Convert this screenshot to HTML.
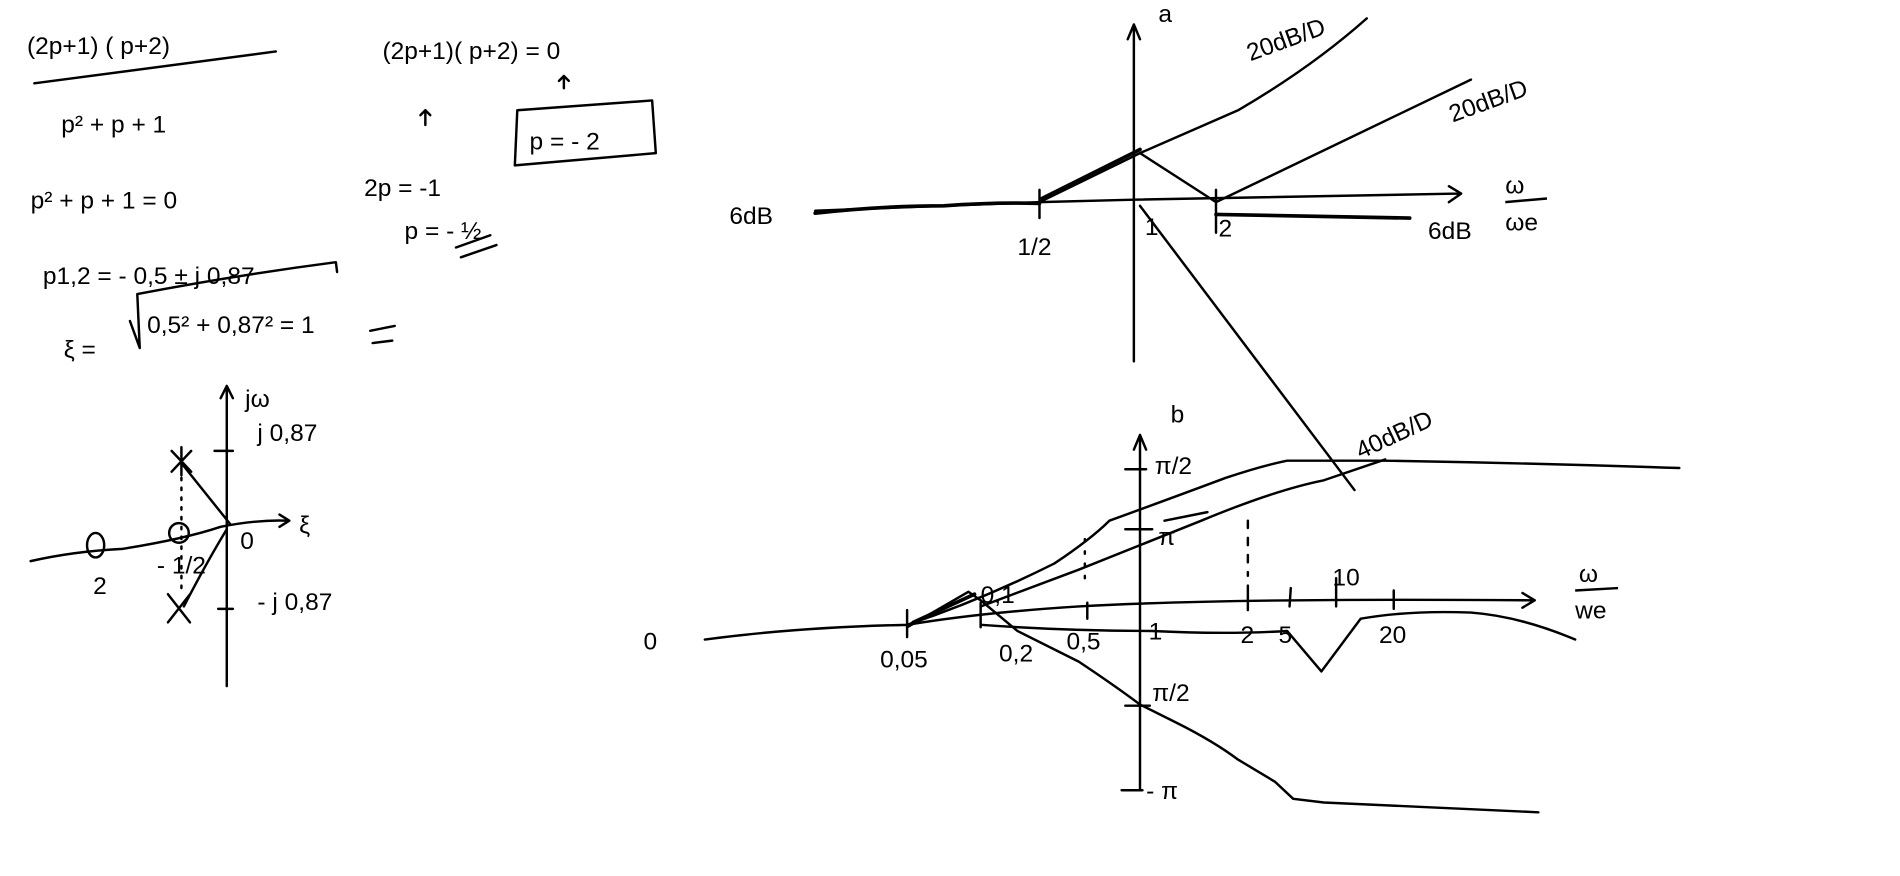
<!DOCTYPE html>
<html><head><meta charset="utf-8"><style>
html,body{margin:0;padding:0;background:#fff;width:1900px;height:876px;overflow:hidden}
svg{display:block}
text{font-family:"Liberation Sans",sans-serif;fill:#000;font-size:20px}
</style></head><body>
<svg width="1900" height="876" viewBox="0 0 1550 715" preserveAspectRatio="none">
<g fill="none" stroke="#000" stroke-width="2" stroke-linecap="round" stroke-linejoin="round">
<path d="M28 68 L225 42"/>
<path d="M422 90 L532 82 L535 125 L420 135 Z"/>
<path d="M460 72 L460 62 M456 66 L460 62 L464 66"/>
<path d="M347 102 L347 90 M343 94 L347 90 L351 94"/>
<path d="M372 202 L400 192 M376 210 L405 200"/>
<path d="M302 270 L322 266 M304 280 L320 278"/>
<!-- sqrt -->
<path d="M106 262 L114 284 L112 240 Q190 225 274 214 L275 222"/>
<!-- pole zero plot -->
<path d="M185 560 L185 315 M180 325 L185 315 L190 325"/>
<path d="M25 458 Q60 450 100 448 Q150 440 180 430 Q210 424 235 425 M228 420 L236 425 L228 430"/>
<ellipse cx="78" cy="445" rx="7" ry="10"/>
<ellipse cx="146" cy="435" rx="8" ry="8"/>
<path d="M140 368 L156 385 M156 368 L140 385 M148 365 L148 388"/>
<path d="M137 485 L155 508 M155 485 L137 508"/>
<path d="M148 378 L188 428 M185 432 Q168 460 150 495"/>
<path d="M148 390 L148 480" stroke-dasharray="2 6"/>
<path d="M175 368 L190 368 M178 497 L190 497"/>
<!-- top right plot -->
<path d="M925 295 L925 20 M920 32 L925 20 L930 32"/>
<path d="M665 172 Q760 168 848 165 L925 163 L1190 158 M1182 152 L1192 158 L1182 165"/>
<path d="M665 174 Q720 168 770 168 Q810 165 848 166" stroke-width="3"/>
<path d="M848 165 L930 125 L1010 90 Q1070 55 1115 15" stroke-width="2"/>
<path d="M850 162 L930 122" stroke-width="3"/>
<path d="M930 125 L992 165"/>
<path d="M992 165 L1200 65"/>
<path d="M992 175 L1150 178" stroke-width="3"/>
<path d="M848 155 L848 178 M992 155 L992 190"/>
<path d="M930 168 L1105 400"/>
<!-- bottom plot -->
<path d="M930 645 L930 355 M925 367 L930 355 L935 367"/>
<path d="M575 522 Q650 512 740 510 Q800 500 880 495 Q1000 488 1250 490 M1242 484 L1252 490 L1242 496"/>
<path d="M740 498 L740 520 M800 492 L800 512 M887 492 L887 505 M1018 478 L1018 498 M1053 480 L1052 495 M1090 472 L1090 495 M1137 482 L1137 497"/>
<path d="M740 512 L790 483 L800 490 L830 515 L880 540 Q910 560 930 575 L960 590 Q990 605 1010 620 L1040 638 L1055 652 L1080 655 L1255 663"/>
<path d="M740 510 Q800 490 860 460 Q890 440 905 425 Q960 405 1000 390 Q1030 380 1050 376 L1130 376 Q1250 378 1370 382"/>
<path d="M800 495 Q840 480 880 465 Q930 445 980 425 Q1040 400 1080 392 L1130 375"/>
<path d="M745 508 L795 485" stroke-width="3"/>
<path d="M800 510 Q870 515 940 515 Q1000 518 1050 515 L1078 548 L1110 505 Q1150 498 1200 500 Q1240 503 1285 522"/>
<path d="M1018 425 L1018 470" stroke-dasharray="6 8"/>
<path d="M885 440 L885 475" stroke-dasharray="2 8"/>
<path d="M918 383 L935 383 M918 432 L940 432 M918 576 L938 576 M915 645 L932 645"/>
<path d="M950 425 L985 418"/>
</g>
<text x="22" y="44" font-size="24">(2p+1) ( p+2)</text>
<text x="50" y="108" font-size="22">p² + p + 1</text>
<text x="312" y="48" font-size="26">(2p+1)( p+2) = 0</text>
<text x="432" y="122" font-size="24">p = - 2</text>
<text x="297" y="160" font-size="18">2p = -1</text>
<text x="330" y="195" font-size="18">p = - ½</text>
<text x="25" y="170" font-size="18">p² + p + 1 = 0</text>
<text x="35" y="232" font-size="20">p1,2 = - 0,5 ± j 0,87</text>
<text x="52" y="292" font-size="26">ξ =</text>
<text x="120" y="272" font-size="20">0,5² + 0,87² = 1</text>
<text x="200" y="332" font-size="20">jω</text>
<text x="210" y="360" font-size="18">j 0,87</text>
<text x="210" y="498" font-size="18">- j 0,87</text>
<text x="244" y="435" font-size="22">ξ</text>
<text x="196" y="448" font-size="16">0</text>
<text x="76" y="485" font-size="14">2</text>
<text x="128" y="468" font-size="13">- 1/2</text>
<text x="945" y="18" font-size="12">a</text>
<text x="595" y="183" font-size="20">6dB</text>
<text x="1020" y="50" font-size="16" transform="rotate(-20 1020 50)">20dB/D</text>
<text x="1185" y="100" font-size="16" transform="rotate(-20 1185 100)">20dB/D</text>
<text x="1228" y="158" font-size="22">ω</text>
<path d="M1228 165 L1262 162" stroke="#000" stroke-width="2"/>
<text x="1228" y="188" font-size="20">ωe</text>
<text x="1165" y="195" font-size="16">6dB</text>
<text x="830" y="208" font-size="18">1/2</text>
<text x="934" y="192" font-size="14">1</text>
<text x="994" y="193" font-size="18">2</text>
<text x="955" y="345" font-size="18">b</text>
<text x="942" y="387" font-size="16">π/2</text>
<text x="945" y="445" font-size="16">π</text>
<text x="940" y="572" font-size="18">π/2</text>
<text x="935" y="652" font-size="18">- π</text>
<text x="1110" y="375" font-size="16" transform="rotate(-25 1110 375)">40dB/D</text>
<text x="1288" y="475" font-size="22">ω</text>
<path d="M1285 482 L1320 480" stroke="#000" stroke-width="2"/>
<text x="1285" y="505" font-size="20">we</text>
<text x="525" y="530" font-size="18">0</text>
<text x="718" y="545" font-size="16">0,05</text>
<text x="815" y="540" font-size="16">0,2</text>
<text x="870" y="530" font-size="14">0,5</text>
<text x="937" y="522" font-size="14">1</text>
<text x="1012" y="525" font-size="18">2</text>
<text x="1043" y="525" font-size="18">5</text>
<text x="1087" y="478" font-size="12">10</text>
<text x="1125" y="525" font-size="18">20</text>
<text x="800" y="492" font-size="12">0,1</text>
</svg>
</body></html>
